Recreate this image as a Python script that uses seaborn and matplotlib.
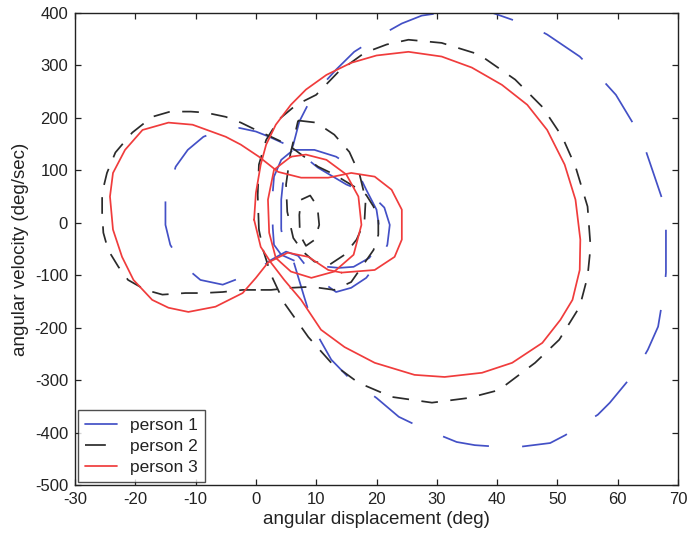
import matplotlib
matplotlib.use("Agg")
import matplotlib.pyplot as plt
from matplotlib.lines import Line2D
import seaborn as sns
import pandas as pd

# ---------------- data (angular displacement in deg, angular velocity in deg/sec) -------------
persons = ["person 1", "person 2", "person 3"]

# person 1 (blue)
p1_big_deg = [4.2, 4.2, 4.7, 6.2, 7.2, 8.8, 10.3, 13.3, 16.3, 20, 24.2, 27.5, 30.5, 35, 39.3, 45.8,
              48.3, 53.7, 56.7, 59.7, 63, 64.2, 66.3, 67.8, 68, 68, 67.8, 66.7, 65, 62.8, 58.7, 56.7,
              51.3, 48.8, 42.5, 36.3, 33.3, 27.5, 23.7, 20, 15.8, 12.5, 9.7, 8, 6.3, 4.7]
p1_big_vel = [-13, 44, 101, 149, 193, 229, 254, 292, 326, 353, 380, 395, 400, 400, 400, 374,
              359, 317, 282, 244, 181, 153, 82, 31, -13, -95, -122, -198, -242, -286, -343, -366,
              -405, -420, -429, -424, -418, -391, -370, -334, -300, -261, -204, -141, -76, -42]
p1_inner_deg = [6.2, 9.7, 13.3, 16.7, 18.3, 20, 20.5, 20, 18.8, 16.2, 13.8, 10, 6.7, 4.2, 3, 2.8, 2.7, 3, 4.2]
p1_inner_vel = [139, 139, 126, 101, 63, 25, -13, -48, -67, -84, -86, -82, -74, -61, -42, -10, 44, 88, 120]
p1_left_deg = [-2.8, 0, 2.2, 6.2, 10.3, 15, 19.2, 21.3, 22.2, 21.8, 20.8, 18.3, 15.8, 13.3, 10.5,
               8.3, 7, 5, 2.5, -0.3, -5.5, -9.2, -12.2, -14.2, -15, -15, -13.3, -11.3, -8.7, -5.8]
p1_left_vel = [181, 174, 164, 143, 105, 73, 53, 29, -4, -42, -67, -105, -124, -132, -109,
               -82, -63, -55, -71, -95, -118, -109, -80, -42, -4, 44, 107, 139, 164, 177]

# person 2 (black)
p2_big_deg = [0.5, 0.3, 0.5, 1.7, 3.8, 6.7, 10, 13.7, 18, 21.7, 25.3, 30.8, 37, 43, 47.5, 50.8, 53,
              55, 55.5, 55, 53.7, 50.3, 46.3, 40.3, 35.3, 29.2, 22.5, 17, 12.5, 8.7, 4.7, 2.5, 1.2]
p2_big_vel = [-13, 53, 111, 158, 197, 225, 244, 288, 324, 340, 349, 343, 321, 273, 221, 164, 107,
              31, -46, -103, -160, -223, -267, -319, -334, -343, -332, -305, -267, -218, -153, -99, -52]
p2_left_deg = [0, -2.2, -5.5, -8.8, -11.7, -15.5, -18.3, -21.2, -22.8, -24.5, -25.3, -25.5, -25.5,
               -24.7, -23.3, -20.5, -17.2, -14.2, -10.8, -8.3, -5, -2.5, 0, 2.5, 5.3, 8, 10.3, 13,
               16.3, 18.3, 19.5, 20.3, 20.3, 19.5, 17.8, 15.8, 13, 9.2, 5.8, 2.5]
p2_left_vel = [-128, -128, -132, -134, -134, -137, -128, -109, -84, -52, -19, 19, 57,
               95, 134, 172, 202, 212, 212, 210, 202, 191, 177, 164, 149, 126, 107, 92,
               69, 53, 31, 6, -23, -52, -80, -113, -128, -122, -124, -128]
p2_inner_deg = [7, 10, 13, 15.5, 17.2, 18.2, 18, 16.7, 14.7, 12.2, 9.7, 7.8, 6.2, 5.2, 5, 5.7]
p2_inner_vel = [195, 191, 168, 135, 92, 44, 2, -32, -61, -80, -74, -55, -29, 21, 73, 130]
p2_core_deg = [7.5, 9, 10.2, 10.5, 9.8, 8.3, 7.3, 7.2]
p2_core_vel = [44, 52, 31, -4, -32, -44, -23, 15]

# person 3 (red)
p3_big_deg = [-0.3, 0, 0.8, 1.7, 3.3, 5.8, 8.3, 11.7, 15.8, 20, 25.3, 30.8, 35.8, 40.8, 45, 48.3,
              51.2, 53, 53.8, 53.7, 52.5, 50.5, 47.5, 42.5, 37.5, 31.3, 26.3, 19.7, 14.7, 10.8,
              7.5, 4.7, 2.5, 0.8]
p3_big_vel = [6, 57, 111, 149, 187, 225, 254, 282, 305, 319, 326, 317, 296, 263, 225, 177,
              111, 44, -32, -90, -147, -185, -229, -267, -286, -294, -290, -267, -237, -204,
              -147, -109, -76, -46]
p3_inner_deg = [5.8, 3, 2, 2.2, 3.3, 5.8, 9.2, 13, 16.2, 17.5, 17, 15, 11.7, 8.3]
p3_inner_vel = [126, 101, 44, -19, -67, -93, -105, -93, -61, -4, 50, 92, 120, 130]
p3_left_deg = [14.2, 19.7, 23, 24.2, 24.2, 22.5, 19.7, 15.8, 12, 7.5, 3.7, 0.5, -2.5, -5, -10.5,
               -14.5, -18.8, -21.7, -23.7, -24.2, -23.7, -22.2, -20.3, -17.2, -14.5, -11.2, -6.7,
               -2.2, 0, 2, 5.3, 8.7, 12]
p3_left_vel = [-95, -90, -65, -32, 25, 63, 88, 95, 86, 86, 97, 126, 149, 164, 187,
               191, 177, 139, 95, 50, -13, -65, -109, -147, -162, -170, -160,
               -134, -105, -76, -57, -65, -90]

x_ticks = list(range(-30, 71, 10))
y_ticks = list(range(-500, 401, 100))

# ---------------- build table -------------
segments = [
    ("person 1", "p1_big", p1_big_deg, p1_big_vel),
    ("person 1", "p1_inner", p1_inner_deg, p1_inner_vel),
    ("person 1", "p1_left", p1_left_deg, p1_left_vel),
    ("person 2", "p2_big", p2_big_deg, p2_big_vel),
    ("person 2", "p2_left", p2_left_deg, p2_left_vel),
    ("person 2", "p2_inner", p2_inner_deg, p2_inner_vel),
    ("person 2", "p2_core", p2_core_deg, p2_core_vel),
    ("person 3", "p3_big", p3_big_deg, p3_big_vel),
    ("person 3", "p3_inner", p3_inner_deg, p3_inner_vel),
    ("person 3", "p3_left", p3_left_deg, p3_left_vel),
]
rows = []
for person, seg, xs, ys in segments:
    xs = list(xs) + [xs[0]]
    ys = list(ys) + [ys[0]]
    for i, (a, b) in enumerate(zip(xs, ys)):
        rows.append({"person": person, "segment": seg, "order": i, "deg": a, "vel": b})
df = pd.DataFrame(rows)

# ---------------- style -------------
sns.set_style("white")
plt.rcParams["font.family"] = ["Liberation Sans", "DejaVu Sans"]
plt.rcParams["lines.scale_dashes"] = False
plt.rcParams["axes.unicode_minus"] = False

text_col = "#222222"
colors = {"person 1": "#4350c6", "person 2": "#2b2b2b", "person 3": "#f03c3c"}
dashes = {"person 1": (34, 24), "person 2": (12, 9), "person 3": ""}

fig = plt.figure(figsize=(6.87, 5.38), dpi=100)
ax = fig.add_axes([75 / 687, 1 - 485 / 538, (678 - 75) / 687, (485 - 13) / 538])

sns.lineplot(data=df, x="deg", y="vel", hue="person", style="person", units="segment",
             estimator=None, sort=False, palette=colors, dashes=dashes, lw=1.25,
             legend=False, ax=ax)

ax.set_xlim(-30, 70)
ax.set_ylim(-500, 400)
ax.set_xticks(x_ticks)
ax.set_yticks(y_ticks)
ax.tick_params(direction="in", length=4, width=0.9, bottom=True, left=True, top=True, right=True,
               labelsize=12, colors=text_col, pad=5)
for sp in ax.spines.values():
    sp.set_color(text_col)
    sp.set_linewidth(1.0)
ax.set_xlabel("angular displacement (deg)", fontsize=13.5, color=text_col, labelpad=3)
ax.set_ylabel("angular velocity (deg/sec)", fontsize=13.5, color=text_col, labelpad=4)

handles = [
    Line2D([], [], color=colors["person 1"], lw=1.25, linestyle="-"),
    Line2D([], [], color=colors["person 2"], lw=1.25, dashes=(15, 40)),
    Line2D([], [], color=colors["person 3"], lw=1.25, linestyle="-"),
]
leg = ax.legend(handles, persons, loc="lower left", fontsize=12.5, frameon=True,
                fancybox=False, borderaxespad=0.15, handlelength=1.8, handletextpad=0.75,
                labelspacing=0.32, borderpad=0.45)
leg.get_frame().set_edgecolor(text_col)
leg.get_frame().set_linewidth(1.0)
for t in leg.get_texts():
    t.set_color(text_col)

fig.savefig("out.png", dpi=100, facecolor="white")
